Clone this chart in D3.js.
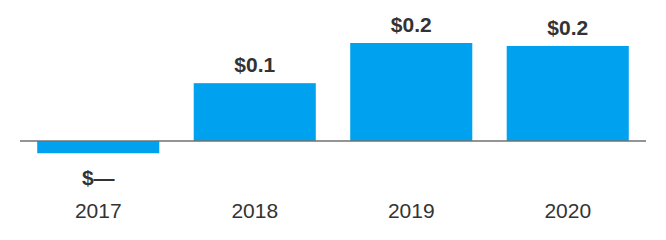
<!DOCTYPE html>
<html>
<head>
<meta charset="utf-8">
<script src="https://cdn.jsdelivr.net/npm/d3@7"></script>
<style>
  body { margin: 0; background: #fff; }
  text { font-family: "Liberation Sans", Arial, sans-serif; }
</style>
</head>
<body>
<div id="chart"></div>
<script>
// chart data
const years = ["2017", "2018", "2019", "2020"];
const values = [-0.025, 0.118, 0.2, 0.194];
const valueLabels = ["$—", "$0.1", "$0.2", "$0.2"];

const width = 666, height = 240;
const svg = d3.select("#chart")
    .append("svg")
    .attr("width", width)
    .attr("height", height);

const xScale = d3.scaleBand()
    .domain(years)
    .range([20, 646])
    .paddingInner(0.22)
    .paddingOuter(0.11);

// 0 sits at y=141, 0.2 at y=43
const yScale = d3.scaleLinear()
    .domain([0, 0.2])
    .range([141, 43]);

// bars
svg.selectAll("rect.bar")
    .data(values)
    .enter()
    .append("rect")
    .attr("class", "bar")
    .attr("x", (d, i) => xScale(years[i]))
    .attr("width", xScale.bandwidth())
    .attr("y", d => yScale(Math.max(0, d)))
    .attr("height", d => Math.abs(yScale(d) - yScale(0)))
    .attr("fill", "#00A2F0");

// zero line
svg.append("line")
    .attr("x1", 20)
    .attr("x2", 646)
    .attr("y1", yScale(0))
    .attr("y2", yScale(0))
    .attr("stroke", "#707070")
    .attr("stroke-width", 1.5);

// value labels
svg.selectAll("text.val")
    .data(values)
    .enter()
    .append("text")
    .attr("class", "val")
    .attr("x", (d, i) => xScale(years[i]) + xScale.bandwidth() / 2)
    .attr("y", d => d < 0 ? yScale(d) + 32 : yScale(d) - 11)
    .attr("text-anchor", "middle")
    .attr("font-size", 21)
    .attr("font-weight", "bold")
    .attr("fill", "#333")
    .text((d, i) => valueLabels[i]);

// x axis labels
const xAxis = svg.append("g")
    .attr("transform", "translate(0,200)")
    .call(d3.axisBottom(xScale).tickSize(0).tickPadding(0));
xAxis.select(".domain").remove();
xAxis.selectAll("text")
    .attr("font-size", 21)
    .attr("font-family", "Liberation Sans, Arial, sans-serif")
    .attr("fill", "#333")
    .attr("dy", "0.85em");
</script>
</body>
</html>
